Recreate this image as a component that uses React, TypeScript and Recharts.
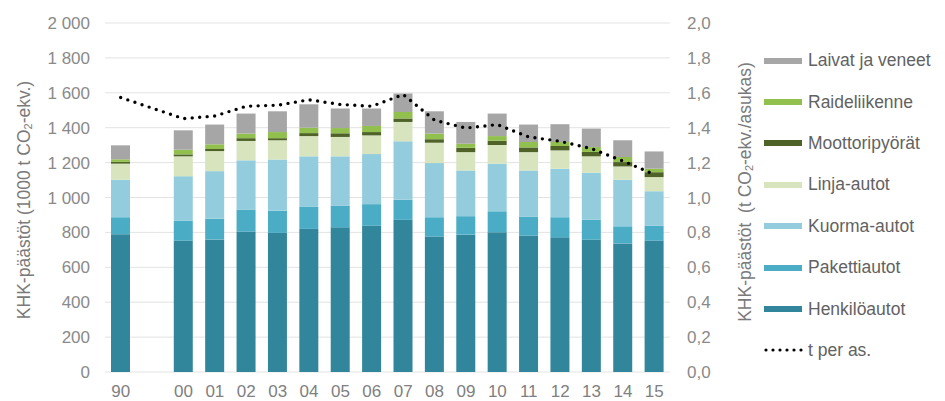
import React from 'react';
import { ComposedChart, Bar, Line, XAxis, YAxis, CartesianGrid, Legend } from 'recharts';

const categories = ['90', '', '00', '01', '02', '03', '04', '05', '06', '07', '08', '09', '10', '11', '12', '13', '14', '15'];
const henkiloautot = [790, null, 753, 760, 805, 797, 820, 829, 839, 872, 776, 787, 801, 782, 772, 759, 737, 753];
const pakettiautot = [97, null, 113, 119, 126, 128, 126, 123, 123, 116, 111, 106, 120, 107, 115, 113, 98, 86];
const kuormaautot = [215, null, 256, 272, 282, 293, 290, 284, 287, 334, 310, 262, 273, 266, 278, 270, 267, 197];
const linjaautot = [92, null, 114, 115, 111, 110, 116, 111, 107, 111, 117, 105, 107, 105, 105, 94, 76, 81];
const moottoripyorat = [10, null, 11, 12, 16, 12, 17, 21, 19, 20, 20, 25, 24, 27, 25, 25, 25, 28];
const raideliikenne = [15, null, 27, 27, 26, 35, 31, 30, 35, 37, 32, 23, 27, 31, 23, 28, 29, 20];
const laivat = [80, null, 111, 113, 115, 119, 134, 112, 100, 106, 128, 125, 129, 100, 102, 106, 96, 99];
const perAsukas = [1.573, null, 1.452, 1.467, 1.523, 1.529, 1.56, 1.533, 1.523, 1.59, 1.443, 1.398, 1.418, 1.347, 1.322, 1.28, 1.209, 1.132];

const leftTicks = [0, 200, 400, 600, 800, 1000, 1200, 1400, 1600, 1800, 2000];
const rightTicks = [0, 0.2, 0.4, 0.6, 0.8, 1.0, 1.2, 1.4, 1.6, 1.8, 2.0];

const series = [
  { key: 'h', name: 'Henkilöautot', color: '#31869b', values: henkiloautot },
  { key: 'p', name: 'Pakettiautot', color: '#4bacc6', values: pakettiautot },
  { key: 'k', name: 'Kuorma-autot', color: '#93cddd', values: kuormaautot },
  { key: 'l', name: 'Linja-autot', color: '#d7e4bd', values: linjaautot },
  { key: 'm', name: 'Moottoripyörät', color: '#4f6228', values: moottoripyorat },
  { key: 'r', name: 'Raideliikenne', color: '#92c04f', values: raideliikenne },
  { key: 'v', name: 'Laivat ja veneet', color: '#a6a6a6', values: laivat },
];
const lineName = 't per as.';

const data = categories.map((c, i) => {
  const row: any = { year: c, t: perAsukas[i] };
  series.forEach((s) => { row[s.key] = s.values[i]; });
  return row;
});

const FONT = '"Liberation Sans", Arial, sans-serif';

const fmtLeft = (v: number) => {
  const s = String(v);
  return s.length > 3 ? s.slice(0, s.length - 3) + ' ' + s.slice(-3) : s;
};
const fmtRight = (v: number) => v.toFixed(1).replace('.', ',');

const LegendContent = () => {
  const items = [...series].reverse();
  return (
    <div style={{ fontFamily: FONT, fontSize: 17.5, color: '#626262' }}>
      {items.map((s) => (
        <div key={s.key} style={{ height: 41.4, display: 'flex', alignItems: 'center' }}>
          <div style={{ width: 38, height: 6, background: s.color, marginRight: 6 }} />
          <span>{s.name}</span>
        </div>
      ))}
      <div style={{ height: 41.4, display: 'flex', alignItems: 'center' }}>
        <svg width={40} height={6} style={{ marginRight: 4 }}>
          <line x1={2} y1={3} x2={38} y2={3} stroke="#000" strokeWidth={3.2} strokeDasharray="0 7" strokeLinecap="round" />
        </svg>
        <span>{lineName}</span>
      </div>
    </div>
  );
};

const LeftTitle = () => {
  const cx = 24;
  const cy = 200;
  return (
    <text x={cx} y={cy} transform={`rotate(-90 ${cx} ${cy})`} textAnchor="middle" dominantBaseline="central" fontFamily={FONT} fontSize={17.5} fill="#7a7a7a">
      KHK-päästöt (1000 t CO<tspan fontSize={11} dy={4}>2</tspan><tspan dy={-4}>-ekv.)</tspan>
    </text>
  );
};

const RightTitle = () => {
  const cx = 745;
  const cy = 192;
  return (
    <text x={cx} y={cy} transform={`rotate(-90 ${cx} ${cy})`} textAnchor="middle" dominantBaseline="central" fontFamily={FONT} fontSize={17.5} fill="#7a7a7a">
      {'KHK-päästöt\u00a0\u00a0(t CO'}<tspan fontSize={11} dy={4}>2</tspan><tspan dy={-4}>-ekv./asukas)</tspan>
    </text>
  );
};

export default function App() {
  return (
    <div style={{ position: 'absolute', left: 0, top: 0, width: 945, height: 401, background: '#fff' }}>
      <ComposedChart width={945} height={401} data={data} margin={{ top: 23, right: 215, bottom: 5, left: 0 }} barSize={19}>
        <CartesianGrid vertical={false} stroke="#e3e3e3" yAxisId="left" />
        <XAxis dataKey="year" axisLine={false} tickLine={false} height={24} tickMargin={7}
          tick={{ fontFamily: FONT, fontSize: 17, fill: '#808080' }} interval={0} />
        <YAxis yAxisId="left" width={105} domain={[0, 2000]} ticks={leftTicks} tickFormatter={fmtLeft}
          axisLine={false} tickLine={false} tickMargin={9} interval={0}
          tick={{ fontFamily: FONT, fontSize: 17, fill: '#8a8a8a' }} label={<LeftTitle />} />
        <YAxis yAxisId="right" orientation="right" width={60} domain={[0, 2]} ticks={rightTicks} tickFormatter={fmtRight}
          axisLine={false} tickLine={false} tickMargin={11} interval={0}
          tick={{ fontFamily: FONT, fontSize: 17, fill: '#8a8a8a', textAnchor: 'start' }} label={<RightTitle />} />
        {series.map((s) => (
          <Bar key={s.key} dataKey={s.key} name={s.name} stackId="a" yAxisId="left" fill={s.color} isAnimationActive={false} />
        ))}
        <Line dataKey="t" name={lineName} yAxisId="right" type="linear" connectNulls dot={false} activeDot={false}
          stroke="#000" strokeWidth={3.4} strokeDasharray="0 7.5" strokeLinecap="round" isAnimationActive={false} />
        <Legend layout="horizontal" verticalAlign="middle" align="center" content={<LegendContent />}
          wrapperStyle={{ position: 'absolute', left: 764, top: 40, width: 181, height: 340 }} />
      </ComposedChart>
    </div>
  );
}
